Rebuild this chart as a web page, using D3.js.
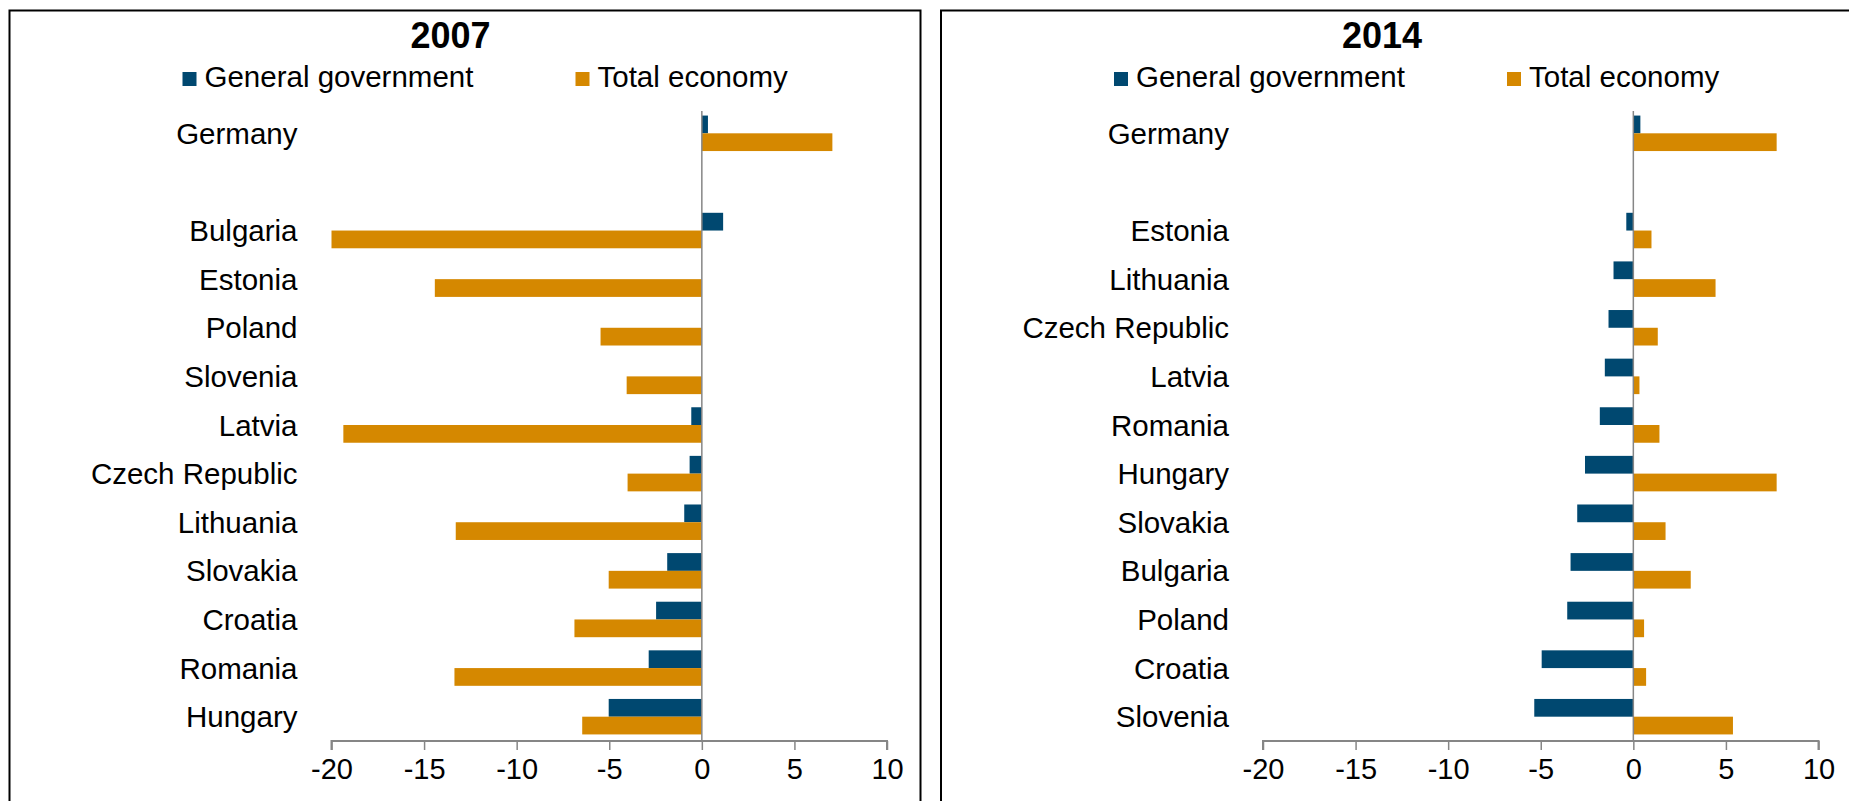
<!DOCTYPE html>
<html>
<head>
<meta charset="utf-8">
<script src="https://cdn.jsdelivr.net/npm/d3@7"></script>
<style>
  html, body { margin: 0; padding: 0; background: #fff; }
  svg { display: block; }
  text { font-family: "Liberation Sans", Arial, Helvetica, sans-serif; fill: #000; }
</style>
</head>
<body>
<svg id="chart" width="1849" height="801"></svg>
<script>
// ---- Data ----
const seriesNames = ["General government", "Total economy"];
const seriesColors = ["#004870", "#D58800"];
const xTicks = [-20, -15, -10, -5, 0, 5, 10];

const title2007 = "2007";
const categories2007 = ["Germany", "", "Bulgaria", "Estonia", "Poland", "Slovenia", "Latvia",
  "Czech Republic", "Lithuania", "Slovakia", "Croatia", "Romania", "Hungary"];
const gov2007 = [0.33, null, 1.15, 0, 0, 0, -0.57, -0.66, -0.95, -1.87, -2.47, -2.87, -5.03];
const total2007 = [7.05, null, -20.0, -14.42, -5.47, -4.06, -19.36, -4.01, -13.29, -5.03, -6.88, -13.36, -6.46];

const title2014 = "2014";
const categories2014 = ["Germany", "", "Estonia", "Lithuania", "Czech Republic", "Latvia", "Romania",
  "Hungary", "Slovakia", "Bulgaria", "Poland", "Croatia", "Slovenia"];
const gov2014 = [0.38, null, -0.38, -1.07, -1.34, -1.54, -1.81, -2.61, -3.03, -3.39, -3.57, -4.95, -5.35];
const total2014 = [7.74, null, 0.98, 4.44, 1.32, 0.33, 1.41, 7.74, 1.74, 3.10, 0.58, 0.69, 5.38];

// ---- Drawing ----
const svg = d3.select("#chart");

function drawPanel(offsetX, title, categories, gov, total) {
  const g = svg.append("g").attr("transform", `translate(${offsetX},0)`);

  // frame
  g.append("rect")
    .attr("x", 0).attr("y", 10.5)
    .attr("width", 911).attr("height", 820)
    .attr("fill", "none").attr("stroke", "#000").attr("stroke-width", 2);

  // title
  g.append("text")
    .attr("x", 441).attr("y", 48)
    .attr("text-anchor", "middle")
    .attr("font-size", 36).attr("font-weight", "bold")
    .text(title);

  // legend
  const legendX = [173, 566];
  seriesNames.forEach((name, i) => {
    g.append("rect")
      .attr("x", legendX[i]).attr("y", 72)
      .attr("width", 14).attr("height", 14)
      .attr("fill", seriesColors[i]);
    g.append("text")
      .attr("x", legendX[i] + 22).attr("y", 87)
      .attr("font-size", 29.5)
      .text(name);
  });

  const x = d3.scaleLinear().domain([-20, 10]).range([322, 877.5]);
  const y = d3.scaleBand().domain(categories).range([109, 741]).paddingInner(0).paddingOuter(0);
  const ySub = d3.scaleBand().domain(seriesNames).range([0, y.bandwidth()]).paddingInner(0).paddingOuter(0.37);

  const rows = categories.map((c, i) => ({ cat: c, vals: [gov[i], total[i]] }));

  // bars
  const rowG = g.selectAll("g.row").data(rows).join("g")
    .attr("class", "row")
    .attr("transform", d => `translate(0,${y(d.cat)})`);
  rowG.selectAll("rect")
    .data(d => d.vals.map((v, i) => ({ v, s: seriesNames[i], c: seriesColors[i] })).filter(e => e.v !== null && e.v !== 0))
    .join("rect")
    .attr("x", e => x(Math.min(0, e.v)))
    .attr("width", e => Math.abs(x(e.v) - x(0)))
    .attr("y", e => ySub(e.s))
    .attr("height", ySub.bandwidth())
    .attr("fill", e => e.c);

  // category labels
  g.selectAll("text.cat").data(categories.filter(c => c !== "")).join("text")
    .attr("class", "cat")
    .attr("x", 288)
    .attr("y", c => y(c) + y.bandwidth() / 2)
    .attr("dy", "0.36em")
    .attr("text-anchor", "end")
    .attr("font-size", 29.5)
    .text(c => c);

  // zero line
  g.append("line")
    .attr("x1", x(0)).attr("x2", x(0))
    .attr("y1", 111).attr("y2", 741)
    .attr("stroke", "#868686").attr("stroke-width", 1.5);

  // x axis
  const axis = d3.axisBottom(x).tickValues(xTicks).tickSize(9).tickPadding(8).tickFormat(d3.format("d"));
  const ax = g.append("g").attr("transform", "translate(0,741)").call(axis);
  ax.select(".domain").attr("stroke", "#868686").attr("stroke-width", 2)
    .attr("d", `M${x(-20)},9V0H${x(10)}V9`);
  ax.selectAll(".tick line").attr("stroke", "#868686").attr("stroke-width", 1.5);
  ax.selectAll(".tick text")
    .attr("font-size", 29)
    .attr("font-family", "'Liberation Sans', Arial, Helvetica, sans-serif")
    .attr("fill", "#000")
    .attr("dy", "0.71em")
    .text(d => d < 0 ? "-" + Math.abs(d) : String(d));
}

drawPanel(9.5, title2007, categories2007, gov2007, total2007);
drawPanel(941, title2014, categories2014, gov2014, total2014);
</script>
</body>
</html>
